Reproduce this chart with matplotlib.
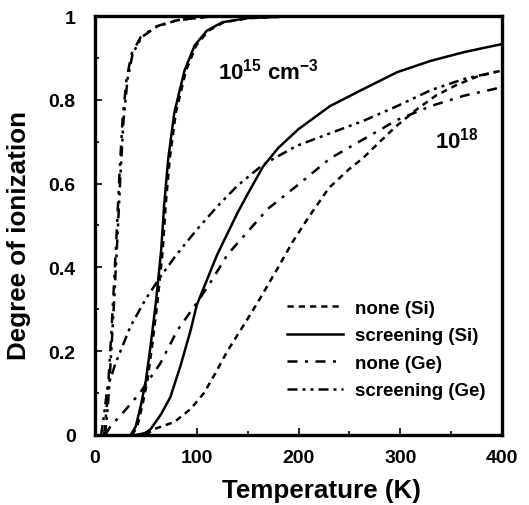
import numpy as np
import matplotlib
matplotlib.use("Agg")
import matplotlib.pyplot as plt
from matplotlib.ticker import MultipleLocator

plt.rcParams['font.family'] = ['Liberation Sans', 'DejaVu Sans']
plt.rcParams['font.weight'] = 'bold'
plt.rcParams['mathtext.fontset'] = 'custom'
plt.rcParams['mathtext.rm'] = 'Liberation Sans:bold'
plt.rcParams['mathtext.it'] = 'Liberation Sans:bold'
plt.rcParams['mathtext.bf'] = 'Liberation Sans:bold'

# 10^15 cm^-3 curves (none / screening nearly overlap)
t_ge15 = [9, 12, 15, 18, 21, 24, 27, 31, 36, 45, 60, 80, 110, 150, 400]
ge15 = [0.0, 0.08, 0.20, 0.33, 0.47, 0.62, 0.75, 0.85, 0.91, 0.95, 0.975, 0.99, 0.998, 1.0, 1.0]

t_si15 = [35, 40, 45, 50, 55, 60, 65, 68, 72, 78, 88, 98, 110, 125, 150, 200, 400]
si15 = [0.0, 0.02, 0.07, 0.13, 0.22, 0.32, 0.44, 0.55, 0.66, 0.77, 0.87, 0.93, 0.965, 0.985, 0.995, 1.0, 1.0]

# 10^18 cm^-3 curves
t_si_none = [50, 58, 78, 94, 107, 118, 130, 150, 162, 180, 194, 210, 230, 250, 263, 280, 296, 315, 335, 355, 375, 400]
si_none = [0.0, 0.014, 0.031, 0.062, 0.10, 0.146, 0.20, 0.277, 0.325, 0.40, 0.46, 0.52, 0.59, 0.635, 0.66, 0.70, 0.737, 0.775, 0.81, 0.835, 0.855, 0.87]

t_si_scr = [40, 50, 55, 65, 74, 84, 94, 100, 110, 120, 130, 140, 150, 165, 180, 200, 231, 264, 297, 330, 363, 400]
si_scr = [0.0, 0.005, 0.015, 0.05, 0.09, 0.165, 0.25, 0.31, 0.37, 0.43, 0.48, 0.53, 0.575, 0.64, 0.685, 0.73, 0.785, 0.826, 0.866, 0.893, 0.914, 0.933]

t_ge_none = [10, 15, 30, 44, 64, 81, 100, 115, 130, 150, 170, 200, 231, 264, 297, 330, 363, 400]
ge_none = [0.0, 0.02, 0.06, 0.10, 0.17, 0.25, 0.315, 0.37, 0.43, 0.485, 0.54, 0.598, 0.66, 0.706, 0.752, 0.785, 0.81, 0.83]

t_ge_scr = [6, 9, 12, 20, 35, 50, 65, 80, 100, 120, 140, 165, 198, 231, 264, 297, 330, 363, 400]
ge_scr = [0.0, 0.05, 0.11, 0.17, 0.26, 0.325, 0.38, 0.43, 0.49, 0.545, 0.595, 0.645, 0.69, 0.72, 0.75, 0.785, 0.823, 0.85, 0.87]

labels = ['none (Si)', 'screening (Si)', 'none (Ge)', 'screening (Ge)']

dash = (0, (2.5, 2.0))
dashdot = (0, (4, 3, 1.2, 3))
dashdotdot = (0, (4, 2, 1.2, 2, 1.2, 2))

fig = plt.figure(figsize=(5.29, 5.06), dpi=100)
ax = fig.add_axes([95 / 529, 1 - 436 / 506, 407 / 529, 419 / 506])

lw = 1.8
ax.plot(t_si15, si15, color='black', lw=lw)
ax.plot(np.array(t_si15) + 1.5, si15, color='black', lw=lw, linestyle=dash)
ax.plot(t_ge15, ge15, color='black', lw=lw, linestyle=dashdot)
ax.plot(np.array(t_ge15) + 1.0, ge15, color='black', lw=lw, linestyle=dashdotdot)

l1, = ax.plot(t_si_none, si_none, color='black', lw=lw, linestyle=dash)
l2, = ax.plot(t_si_scr, si_scr, color='black', lw=lw)
l3, = ax.plot(t_ge_none, ge_none, color='black', lw=lw, linestyle=dashdot)
l4, = ax.plot(t_ge_scr, ge_scr, color='black', lw=lw, linestyle=dashdotdot)

ax.legend([l1, l2, l3, l4], labels, frameon=False, loc='lower right',
          bbox_to_anchor=(1.0, 0.045), handlelength=3.0, handletextpad=0.6,
          labelspacing=0.55, prop={'size': 13.5, 'weight': 'bold'})

ax.text(121, 0.87, r'$10^{15}\ \mathrm{cm}^{-3}$', fontsize=16, va='center')
ax.text(334, 0.706, r'$10^{18}$', fontsize=16, va='center')

ax.set_xlim(0, 400)
ax.set_ylim(0, 1)
ax.xaxis.set_major_locator(MultipleLocator(100))
ax.xaxis.set_minor_locator(MultipleLocator(50))
ax.yaxis.set_minor_locator(MultipleLocator(0.1))
ax.set_yticks([0, 0.2, 0.4, 0.6, 0.8, 1.0])
ax.set_yticklabels(['0', '0.2', '0.4', '0.6', '0.8', '1'])
ax.tick_params(which='both', direction='in', labelsize=14, width=1.2)
ax.tick_params(which='major', length=5)
ax.tick_params(axis='x', which='major', pad=10)
ax.tick_params(axis='y', which='major', pad=14)
ax.tick_params(which='minor', length=3)
for s in ax.spines.values():
    s.set_linewidth(2.4)

ax.set_xlabel('Temperature (K)', fontsize=18.7, fontweight='bold')
ax.xaxis.label.set_va('center')
ax.xaxis.set_label_coords((321 - 95) / 407, -(491 - 436) / 419)
ax.set_ylabel('Degree of ionization', fontsize=18.7, fontweight='bold')
ax.yaxis.label.set_va('center')
ax.yaxis.set_label_coords(-(95 - 19) / 407, (436 - 236) / 419)

fig.savefig('out.png', dpi=100)
